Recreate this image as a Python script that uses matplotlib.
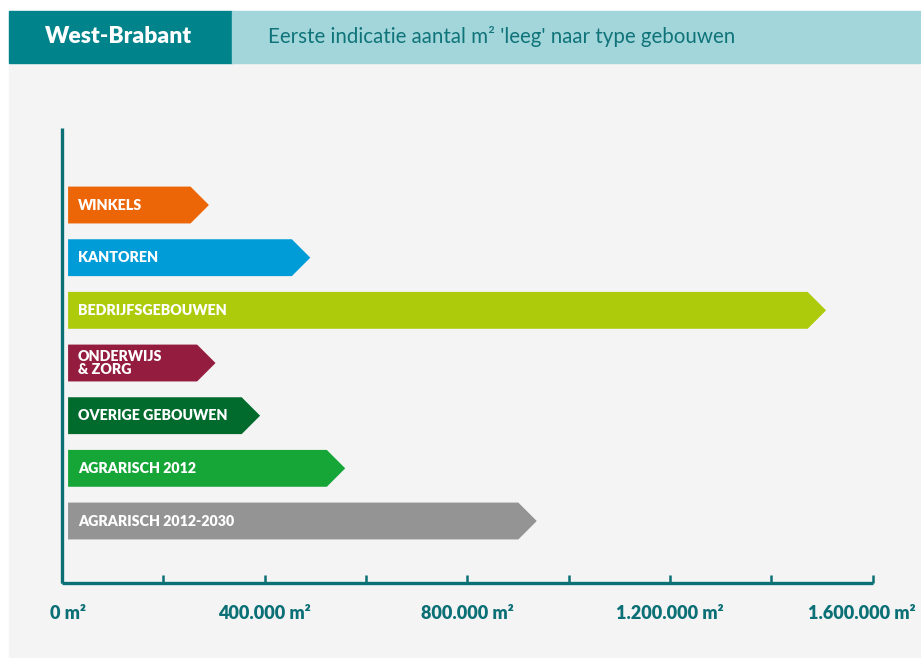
import matplotlib.pyplot as plt
from matplotlib.patches import Polygon, Rectangle
from matplotlib.transforms import offset_copy

# leegstand per type gebouw (m2), West-Brabant
categories = ["WINKELS", "KANTOREN", "BEDRIJFSGEBOUWEN", "ONDERWIJS\n& ZORG",
              "OVERIGE GEBOUWEN", "AGRARISCH 2012", "AGRARISCH 2012-2030"]
values = [290000, 490000, 1508000, 303000, 391000, 559000, 937000]
colors = ["#ec6608", "#009cd8", "#adcb0b", "#941c3f", "#006b2d", "#16a638", "#949494"]

tick_values = [0, 200000, 400000, 600000, 800000, 1000000, 1200000, 1400000, 1600000]
label_values = [0, 400000, 800000, 1200000, 1600000]
label_texts = ["0 m²", "400.000 m²", "800.000 m²", "1.200.000 m²", "1.600.000 m²"]

title = "West-Brabant"
subtitle = "Eerste indicatie aantal m² 'leeg' naar type gebouwen"

TEAL = "#00838a"
LIGHT_TEAL = "#a3d6db"
AXIS = "#0b6f76"
PANEL = "#f4f4f4"
FONT = "Lato"

W, H = 921, 658
fig = plt.figure(figsize=(W / 100, H / 100), dpi=100, facecolor="white")

def px_rect(x0, y0, x1, y1, color):
    # rectangle given in pixels from top-left, kept behind the axes
    fig.patches.append(Rectangle((x0 / W, 1 - y1 / H), (x1 - x0) / W, (y1 - y0) / H,
                                 transform=fig.transFigure, color=color, zorder=-5))

px_rect(9, 63, W, H, PANEL)
px_rect(9, 11, 232, 63, TEAL)
px_rect(232, 11, W, 63, LIGHT_TEAL)

fig.text(45 / W, 1 - 43 / H, title, color="white", fontsize=16.5, fontweight="heavy",
         family=FONT, va="baseline", ha="left")
fig.text(268 / W, 1 - 43 / H, subtitle, color="#0f7479", fontsize=14.8,
         family=FONT, va="baseline", ha="left")

# plot area
ax_l, ax_r, ax_t, ax_b = 62, 872.7, 127.7, 583
ax = fig.add_axes([ax_l / W, 1 - ax_b / H, (ax_r - ax_l) / W, (ax_b - ax_t) / H])
ax.patch.set_visible(False)

xmax = 1600000
ymin, ymax = -7.177, 1.468
ax.set_xlim(0, xmax)
ax.set_ylim(ymin, ymax)

bar_h = 0.7
start = 12000
x_per_px = xmax / (ax_r - ax_l)
y_px_per_unit = (ax_b - ax_t) / (ymax - ymin)
tip = bar_h / 2 * y_px_per_unit * x_per_px

label_tr = offset_copy(ax.transData, fig=fig, x=10, y=0, units="dots")
for i, (cat, val, col) in enumerate(zip(categories, values, colors)):
    y = -i
    pts = [(start, y - bar_h / 2), (val - tip, y - bar_h / 2), (val, y),
           (val - tip, y + bar_h / 2), (start, y + bar_h / 2)]
    ax.add_patch(Polygon(pts, closed=True, facecolor=col, edgecolor="none"))
    ax.text(start, y, cat, transform=label_tr, color="white", fontsize=10.3,
            fontweight="heavy", family=FONT, va="center", ha="left", linespacing=0.92)

for side in ["top", "right"]:
    ax.spines[side].set_visible(False)
for side in ["left", "bottom"]:
    ax.spines[side].set_color(AXIS)
    ax.spines[side].set_linewidth(2.4)
    ax.spines[side].set_capstyle("butt")

ax.set_yticks([])
ax.set_xticks(tick_values)
ax.set_xticklabels([])
ax.tick_params(axis="x", direction="in", length=6, width=1.8, color=AXIS)

# axis labels, end labels nudged inwards so they stay on the panel
nudge = {0: 6, 1600000: -11}
for v, txt in zip(label_values, label_texts):
    tr = offset_copy(ax.get_xaxis_transform(), fig=fig, x=nudge.get(v, 0), y=-36, units="dots")
    ax.text(v, 0, txt, transform=tr, ha="center", va="baseline", color=AXIS,
            fontsize=13, fontweight="heavy", family=FONT, clip_on=False)

fig.savefig("out.png", dpi=100)
